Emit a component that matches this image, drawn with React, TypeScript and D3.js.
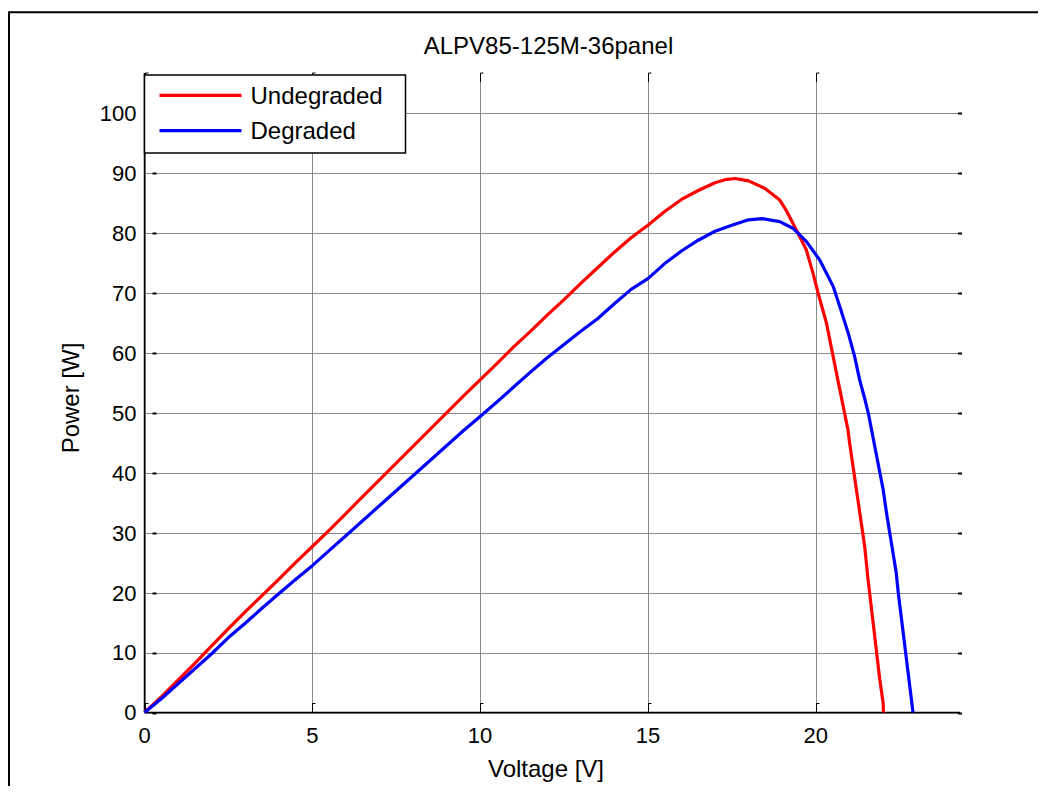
import React from 'react';
import * as d3 from 'd3';

// Voltage [V] / power [W]
const undegradedV = [0, 0.5, 1, 1.5, 2, 2.5, 3, 3.5, 4, 4.5, 5, 5.5, 6, 6.5, 7, 7.5, 8, 8.5, 9, 9.5, 10, 10.5, 11, 11.5, 12, 12.5, 13, 13.5, 14, 14.5, 15, 15.5, 16, 16.5, 17, 17.3, 17.6, 18, 18.5, 18.93, 19.12, 19.47, 19.72, 19.92, 20.07, 20.32, 20.52, 20.66, 20.96, 21.01, 21.46, 21.56, 21.91, 22.01, 22.02];
const undegradedP = [0, 2.6, 5.4, 8.2, 11.1, 14.0, 16.8, 19.5, 22.2, 25.0, 27.7, 30.4, 33.2, 36.0, 38.8, 41.6, 44.4, 47.2, 50.0, 52.8, 55.5, 58.2, 61.0, 63.6, 66.3, 68.9, 71.6, 74.2, 76.8, 79.2, 81.3, 83.6, 85.6, 87.1, 88.4, 88.9, 89.1, 88.7, 87.4, 85.5, 83.8, 80.0, 77.2, 73.3, 70.0, 65.0, 59.4, 55.5, 47.2, 45.0, 27.7, 22.2, 5.5, 1.6, 0];

const degradedV = [0, 0.5, 1, 1.5, 2, 2.5, 3, 3.5, 4, 4.5, 5, 5.5, 6, 6.5, 7, 7.5, 8, 8.5, 9, 9.5, 10, 10.5, 11, 11.5, 12, 12.5, 13, 13.5, 14, 14.5, 15, 15.5, 16, 16.5, 17, 17.5, 18, 18.4, 18.93, 19.32, 19.72, 20.12, 20.52, 20.72, 20.97, 21.16, 21.31, 21.45, 21.58, 22.01, 22.11, 22.4, 22.46, 22.9];
const degradedP = [0, 2.3, 4.8, 7.3, 9.8, 12.5, 14.9, 17.4, 19.8, 22.2, 24.5, 27.0, 29.5, 32.0, 34.5, 37.0, 39.5, 42.0, 44.5, 47.0, 49.4, 51.8, 54.3, 56.8, 59.2, 61.4, 63.6, 65.7, 68.2, 70.6, 72.4, 74.9, 77.0, 78.8, 80.3, 81.3, 82.2, 82.4, 81.9, 80.8, 78.6, 75.5, 71.1, 67.7, 63.3, 59.4, 55.5, 52.6, 49.6, 37.2, 33.3, 23.3, 20.0, 0];

const xTicks = [0, 5, 10, 15, 20];
const yTicks = [0, 10, 20, 30, 40, 50, 60, 70, 80, 90, 100];
const seriesNames = ['Undegraded', 'Degraded'];
const seriesColors = ['#ff0000', '#0000ff'];

const FONT = '"Liberation Sans", Arial, sans-serif';

const App = () => {
    const width = 1038;
    const height = 778;
    // plot area (svg coords, page is offset by 8px body margin)
    const left = 136.5;
    const right = 952;
    const top = 65;
    const bottom = 704.5;

    const x = d3.scaleLinear().domain([0, 24.3]).range([left, right]);
    const y = d3.scaleLinear().domain([0, 106.7]).range([bottom, top]);

    const line = d3
        .line<[number, number]>()
        .x((d) => x(d[0]))
        .y((d) => y(d[1]));

    const series = [
        undegradedV.map((v, i) => [v, undegradedP[i]] as [number, number]),
        degradedV.map((v, i) => [v, degradedP[i]] as [number, number]),
    ];

    const lx = left;
    const ly = 67;
    const lw = 261;
    const lh = 78;

    return (
        <svg width={width} height={height} style={{ display: 'block', fontFamily: FONT }}>
            <rect width={width} height={height} fill="#fff" />
            {/* outer figure frame */}
            <path d={`M1,${height} V4.3 H${width}`} fill="none" stroke="#000" strokeWidth={2} />

            {/* grid */}
            {yTicks.map((t) => (
                <line key={'gy' + t} x1={left} x2={right} y1={Math.round(y(t)) + 0.5} y2={Math.round(y(t)) + 0.5} stroke="#8a8a8a" strokeWidth={1} />
            ))}
            {xTicks.map((t) => (
                <line key={'gx' + t} x1={Math.round(x(t)) + 0.5} x2={Math.round(x(t)) + 0.5} y1={top} y2={bottom} stroke="#8a8a8a" strokeWidth={1} />
            ))}

            {/* ticks */}
            {yTicks.map((t) => (
                <g key={'ty' + t}>
                    <line x1={left + 8} x2={left + 12} y1={Math.round(y(t)) + 0.5} y2={Math.round(y(t)) + 0.5} stroke="#000" strokeWidth={2} />
                    <line x1={right - 2} x2={right + 2} y1={Math.round(y(t)) + 0.5} y2={Math.round(y(t)) + 0.5} stroke="#000" strokeWidth={2} />
                </g>
            ))}
            {xTicks.map((t) => (
                <g key={'tx' + t}>
                    <path d={`M${Math.round(x(t)) + 0.5},${bottom} V${bottom - 9} h3`} fill="none" stroke="#000" strokeWidth={1} />
                    <path d={`M${Math.round(x(t)) + 0.5},${top + 9} V${top} h3`} fill="none" stroke="#000" strokeWidth={1} />
                </g>
            ))}

            {/* axes lines (left and bottom only) */}
            <line x1={left} x2={left} y1={top} y2={bottom} stroke="#000" strokeWidth={1.5} />
            <line x1={left} x2={right} y1={bottom} y2={bottom} stroke="#000" strokeWidth={1.5} />

            {/* curves */}
            {series.map((s, i) => (
                <path key={'s' + i} d={line(s) || ''} fill="none" stroke={seriesColors[i]} strokeWidth={3.2} strokeLinejoin="round" />
            ))}

            {/* tick labels */}
            {yTicks.map((t) => (
                <text key={'ly' + t} x={left - 8} y={y(t)} dy="0.36em" textAnchor="end" fontSize={22}>
                    {t}
                </text>
            ))}
            {xTicks.map((t) => (
                <text key={'lx' + t} x={x(t)} y={735} textAnchor="middle" fontSize={22}>
                    {t}
                </text>
            ))}

            {/* titles */}
            <text x={540.5} y={46.3} textAnchor="middle" fontSize={24}>ALPV85-125M-36panel</text>
            <text x={538} y={769} textAnchor="middle" fontSize={24}>Voltage [V]</text>
            <text transform={`translate(71,390) rotate(-90)`} textAnchor="middle" fontSize={24}>
                Power [W]
            </text>

            {/* legend */}
            <rect x={lx} y={ly} width={lw} height={lh} fill="#fff" stroke="#000" strokeWidth={1.5} />
            {seriesNames.map((name, i) => (
                <g key={'lg' + i}>
                    <line x1={lx + 15} x2={lx + 97} y1={ly + 20.3 + i * 35.4} y2={ly + 20.3 + i * 35.4} stroke={seriesColors[i]} strokeWidth={3.2} />
                    <text x={lx + 106} y={ly + 20.3 + i * 35.4} dy="0.36em" fontSize={24}>
                        {name}
                    </text>
                </g>
            ))}
        </svg>
    );
};

export default App;
